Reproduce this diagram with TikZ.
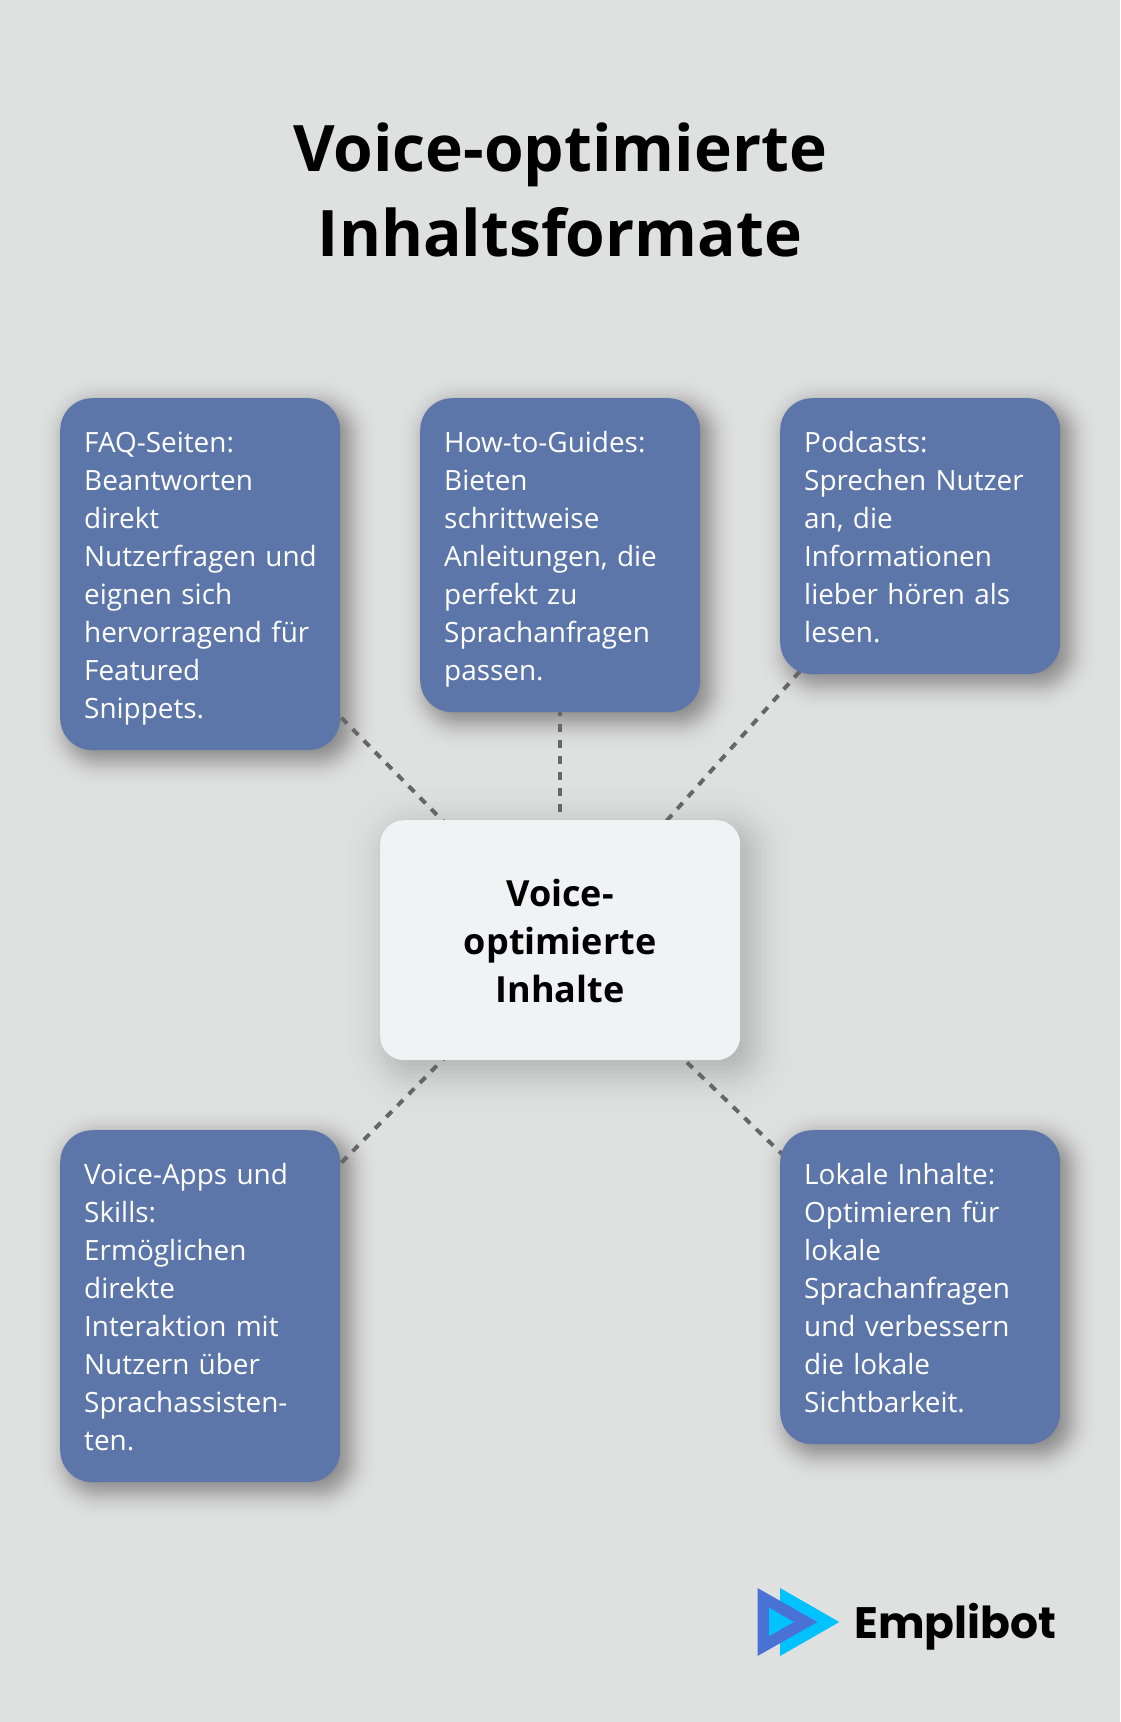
\documentclass[tikz,border=0pt]{standalone}
\usepackage{fontspec}
\setmainfont{Open Sans}
\newfontfamily\logofont{Poppins}
\usetikzlibrary{calc}
\definecolor{bgc}{HTML}{DFE1E0}
\definecolor{boxc}{HTML}{5D76A9}
\definecolor{midc}{HTML}{F0F2F4}
\definecolor{dashc}{HTML}{666666}
\definecolor{logoa}{HTML}{00C2FF}
\definecolor{logob}{HTML}{4A72D4}
\pgfdeclarelayer{shadowlayer}
\pgfdeclarelayer{linelayer}
\pgfsetlayers{shadowlayer,linelayer,main}
\tikzset{
  x=1pt,y=-1pt,
  card/.style={anchor=north west,fill=boxc,rounded corners=32pt,text=white,inner sep=0pt,
    minimum width=280pt,text width=232pt,align=left,font=\fontsize{27.9}{38}\selectfont},
  hub/.style={anchor=north west,fill=midc,rounded corners=24pt,text=black,inner sep=0pt,
    minimum width=360pt,minimum height=240pt,text width=300pt,align=center,font=\fontsize{36}{48}\selectfont\bfseries},
  titletext/.style={text=black,align=center,inner sep=0pt,font=\fontsize{64.1}{85.6}\selectfont\bfseries},
  link/.style={draw=dashc,line width=4pt,dash pattern=on 8pt off 8pt},
}
\newcommand{\firstln}{\rule{0pt}{30.2pt}}
\newcommand{\lastln}{\rule[-7.8pt]{0pt}{7.8pt}}
% soft shadow: stacked translucent rounded rectangles with gaussian weights
% #1 node, #2 corner radius, #3 offset, #4 peak weight, #5 sigma, #6 foreach list
\newcommand{\softshadow}[6]{%
  \begin{pgfonlayer}{shadowlayer}
    \foreach \s in {#6}{
      \pgfmathsetmacro{\rr}{max(#2-(\s),2)}
      \pgfmathsetmacro{\aa}{#4*exp(-((\s)*(\s))/(2*#5*#5))}
      \fill[black,opacity=\aa,rounded corners=\rr pt]
        ($(#1.north west)+(#3+\s,#3+\s)$) rectangle ($(#1.south east)+(#3-\s,#3-\s)$);
    }
  \end{pgfonlayer}}
\newcommand{\cardshadow}[1]{\softshadow{#1}{32}{8}{0.05}{12}{-30,-27,...,30}}
\begin{document}
\begin{tikzpicture}
\useasboundingbox (0,0) rectangle (1120,1722);
\begin{pgfonlayer}{shadowlayer}
\fill[bgc] (0,0) rectangle (1120,1722);
\end{pgfonlayer}
\node[titletext] (title) at (560,190) {Voice-optimierte\\Inhaltsformate};
\node[card,minimum height=352pt] (faq) at (60,398) {\firstln FAQ-Seiten:\\Beantworten\\direkt\\Nutzerfragen~und\\eignen sich\\hervorragend für\\Featured\\Snippets.\lastln};
\node[card,minimum height=314pt] (howto) at (420,398) {\firstln How-to-Guides:\\Bieten\\schrittweise\\Anleitungen, die\\perfekt zu\\Sprachanfragen\\passen.\lastln};
\node[card,minimum height=276pt] (pod) at (780,398) {\firstln Podcasts:\\Sprechen Nutzer\\an, die\\Informationen\\lieber hören als\\lesen.\lastln};
\node[hub] (hub) at (380,820) {\rule{0pt}{38.7pt}Voice-\\optimierte\\Inhalte\rule[-9.3pt]{0pt}{9.3pt}};
\node[card,minimum height=352pt] (apps) at (60,1130) {\firstln Voice-Apps und\\Skills:\\Ermöglichen\\direkte\\Interaktion mit\\Nutzern über\\Sprachassisten-\\ten.\lastln};
\node[card,minimum height=314pt] (local) at (780,1130) {\firstln Lokale Inhalte:\\Optimieren für\\lokale\\Sprachanfragen\\und verbessern\\die lokale\\Sichtbarkeit.\lastln};
\softshadow{hub}{24}{10}{0.016}{22}{-48,-44,...,48}
\cardshadow{faq}
\cardshadow{howto}
\cardshadow{pod}
\cardshadow{apps}
\cardshadow{local}
\begin{pgfonlayer}{linelayer}
\draw[link] (hub.center) -- (faq.center);
\draw[link] (hub.center) -- (howto.center);
\draw[link] (hub.center) -- (pod.center);
\draw[link] (hub.center) -- (apps.center);
\draw[link] (hub.center) -- (local.center);
\end{pgfonlayer}
\fill[logoa] (780,1588) -- (839.3,1622) -- (780,1656) -- cycle;
\fill[logob] (757.5,1588) -- (817.3,1622) -- (757.5,1656) -- cycle;
\fill[logoa] (769,1607.7) -- (794,1622) -- (769,1636) -- cycle;
\node[anchor=base west,inner sep=0pt,text=black,font=\logofont\fontsize{44}{44}\selectfont\bfseries] (logo) at (854,1638) {Emplibot};
\end{tikzpicture}
\end{document}
